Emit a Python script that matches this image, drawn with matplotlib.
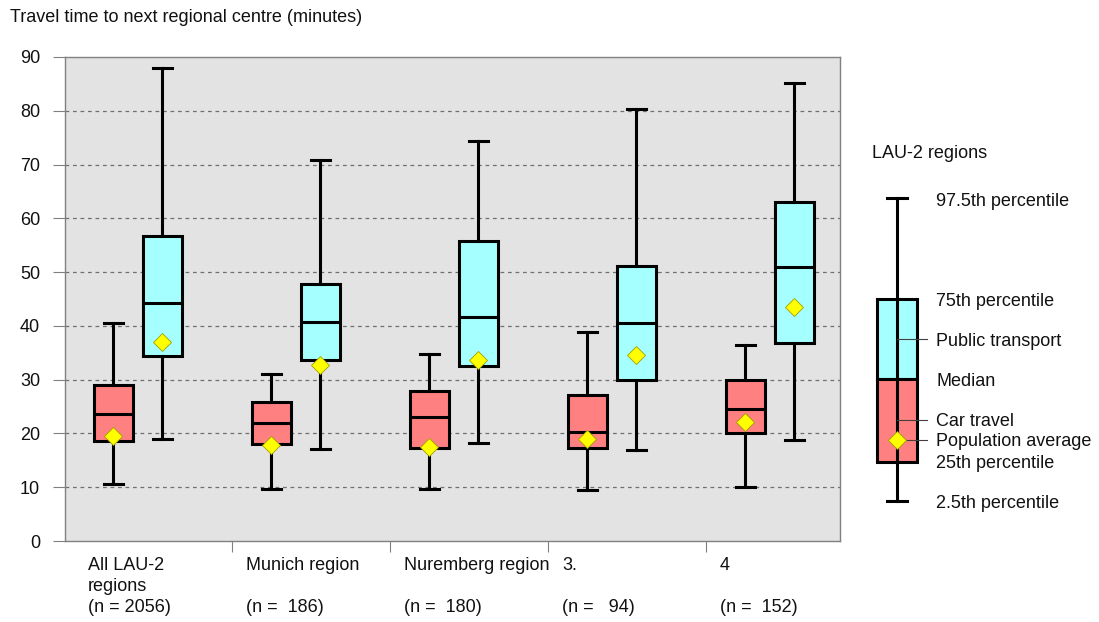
import numpy as np
import matplotlib
matplotlib.use("Agg")
import matplotlib.pyplot as plt
from matplotlib.patches import Rectangle
from matplotlib.lines import Line2D

plt.rcParams['font.family'] = ['Liberation Sans', 'DejaVu Sans']

# data (minutes)
groups = ['All LAU-2\nregions', 'Munich region', 'Nuremberg region', '3.', '4']
counts = ['(n = 2056)', '(n =  186)', '(n =  180)', '(n =   94)', '(n =  152)']

car_p025 = [10.6, 9.7, 9.7, 9.4, 10.0]
car_q1 = [18.6, 18.1, 17.3, 17.3, 20.0]
car_med = [23.7, 22.0, 23.1, 20.2, 24.6]
car_q3 = [29.1, 25.9, 27.9, 27.1, 30.0]
car_p975 = [40.6, 31.1, 34.8, 38.8, 36.4]
car_mean = [19.6, 17.9, 17.4, 18.9, 22.2]

pt_p025 = [19.0, 17.1, 18.2, 16.9, 18.8]
pt_q1 = [34.4, 33.7, 32.6, 30.0, 36.8]
pt_med = [44.2, 40.7, 41.7, 40.6, 50.9]
pt_q3 = [56.7, 47.8, 55.7, 51.1, 63.0]
pt_p975 = [88.0, 70.9, 74.4, 80.3, 85.1]
pt_mean = [37.0, 32.7, 33.6, 34.6, 43.6]

car_col = '#ff8080'
pt_col = '#a6ffff'
bg_col = '#e3e3e3'
diam_col = '#ffff00'
fs = 13

fig = plt.figure(figsize=(10.99, 6.22), dpi=100)
ax = fig.add_axes([65/1099, 1-541/622, (840-65)/1099, (541-57)/622])
ax.set_facecolor(bg_col)


def stats(lo, q1, med, q3, hi, mean):
    return [dict(whislo=a, q1=b, med=c, q3=d, whishi=e, mean=f, fliers=[])
            for a, b, c, d, e, f in zip(lo, q1, med, q3, hi, mean)]


xpos = np.arange(len(groups))
offset = 0.313
width = 0.247
lw = 2.2


def draw(st, pos, col):
    ax.bxp(st, positions=pos, widths=width, showmeans=True, patch_artist=True,
           boxprops=dict(facecolor=col, edgecolor='black', linewidth=lw),
           medianprops=dict(color='black', linewidth=lw),
           whiskerprops=dict(color='black', linewidth=lw),
           capprops=dict(color='black', linewidth=lw),
           capwidths=0.12,
           meanprops=dict(marker='D', markerfacecolor=diam_col, markeredgecolor='#a0a000',
                          markeredgewidth=0.6, markersize=9.5),
           manage_ticks=False, zorder=3)


draw(stats(car_p025, car_q1, car_med, car_q3, car_p975, car_mean), xpos, car_col)
draw(stats(pt_p025, pt_q1, pt_med, pt_q3, pt_p975, pt_mean), xpos + offset, pt_col)

ax.set_xlim(-0.304, 4.601)
ax.set_ylim(0, 90)
ax.set_yticks(range(0, 100, 10))
ax.tick_params(axis='y', length=9, color='#808080', labelsize=fs, pad=9, labelcolor='#111111')
for y in range(10, 90, 10):
    ax.axhline(y, color='#707070', linestyle=(0, (3, 3)), linewidth=0.9, zorder=1)
for s in ax.spines.values():
    s.set_color('#808080')
    s.set_linewidth(1)

ax.set_xticks(xpos[:-1] + 0.753)
ax.set_xticklabels([])
ax.tick_params(axis='x', length=8, color='#808080')
for i in range(len(groups)):
    ax.text(i - 0.158, -0.033, groups[i] + ('' if '\n' in groups[i] else '\n') + '\n' + counts[i],
            transform=ax.get_xaxis_transform(), ha='left', va='top', fontsize=fs,
            linespacing=1.32, color='#111111')

fig.text(10/1099, 1-17/622, 'Travel time to next regional centre (minutes)',
         fontsize=fs, ha='left', va='center', color='#111111')

# legend schematic, drawn in pixel space
lg = fig.add_axes([0, 0, 1, 1])
lg.set_xlim(0, 1099)
lg.set_ylim(622, 0)
lg.axis('off')
lg.text(872, 153, 'LAU-2 regions', fontsize=fs, va='center', color='#111111')
lg.add_line(Line2D([897, 897], [198, 501], color='black', lw=lw))
lg.add_line(Line2D([887, 907], [198, 198], color='black', lw=lw))
lg.add_line(Line2D([887, 907], [501, 501], color='black', lw=lw))
lg.add_patch(Rectangle((877, 299), 40, 80, facecolor=pt_col, edgecolor='black', lw=lw))
lg.add_patch(Rectangle((877, 379), 40, 83, facecolor=car_col, edgecolor='black', lw=lw))
for yy in (339, 420, 440):
    lg.add_line(Line2D([897, 927], [yy, yy], color='#404040', lw=0.8))
lg.plot([897], [440], marker='D', markersize=9.5, markerfacecolor=diam_col,
        markeredgecolor='#a0a000', markeredgewidth=0.6)
leg_labels = ['97.5th percentile', '75th percentile', 'Public transport', 'Median',
              'Car travel', 'Population average', '25th percentile', '2.5th percentile']
leg_y = [201, 302, 341, 382, 421, 441, 463, 503]
for t, yy in zip(leg_labels, leg_y):
    lg.text(936, yy, t, fontsize=fs, va='center', ha='left', color='#111111')

fig.savefig('out.png', dpi=100)
